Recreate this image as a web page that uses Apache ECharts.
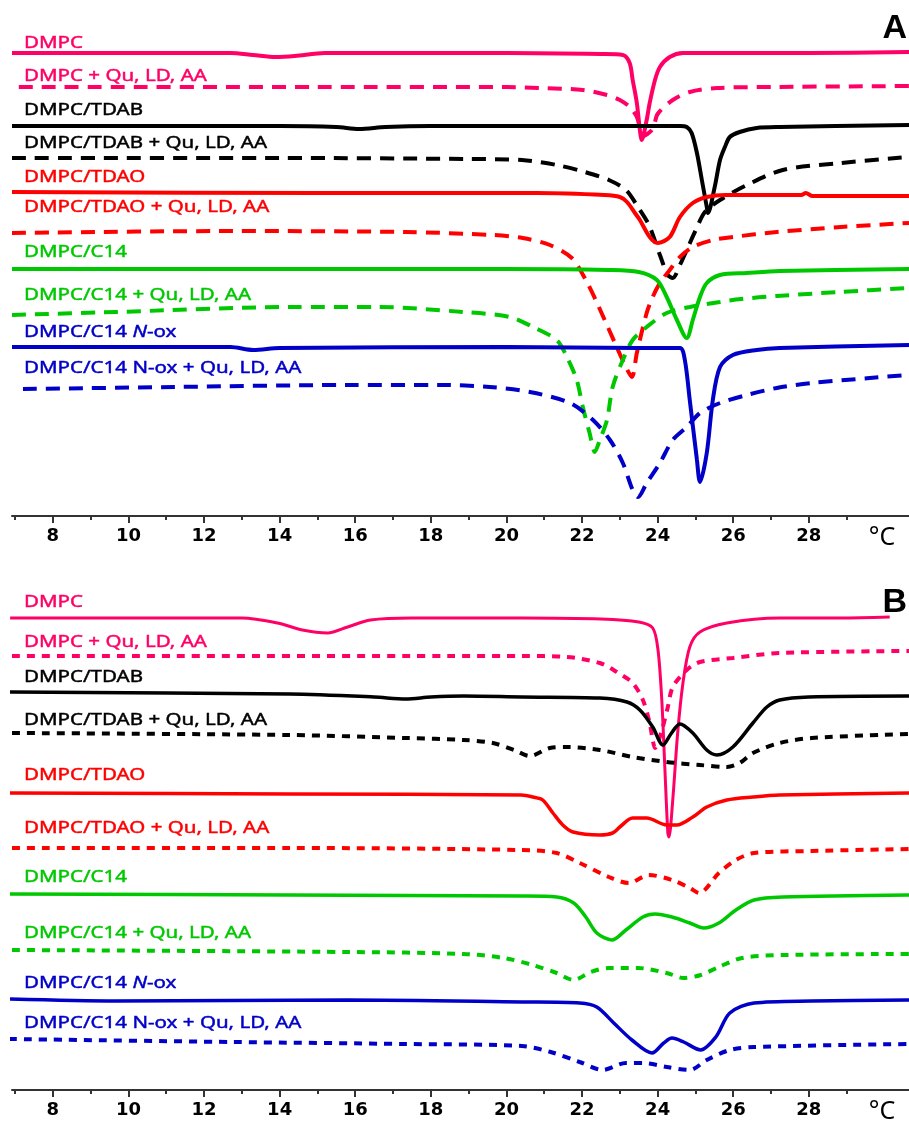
<!DOCTYPE html>
<html><head><meta charset="utf-8">
<script src="https://cdn.jsdelivr.net/npm/echarts@6/dist/echarts.min.js"></script>
<style>html,body{margin:0;padding:0;background:#fff}#c{width:909px;height:1126px}</style>
</head><body><div id="c"></div><script>
// ---------- data ----------
const CATEGORIES = ['DMPC', 'DMPC + Qu, LD, AA', 'DMPC/TDAB', 'DMPC/TDAB + Qu, LD, AA',
  'DMPC/TDAO', 'DMPC/TDAO + Qu, LD, AA', 'DMPC/C14', 'DMPC/C14 + Qu, LD, AA',
  'DMPC/C14 N-ox', 'DMPC/C14 N-ox + Qu, LD, AA'];
const TICKS_MAJOR = [8, 10, 12, 14, 16, 18, 20, 22, 24, 26, 28];
const TICKS_MINOR = [7, 9, 11, 13, 15, 17, 19, 21, 23, 25, 27, 29];
const PANELS = ['A', 'B'];
const UNIT = '°C';

// Panel A (temperature °C, signal in arbitrary offset units)
const A_DMPC = [[6.92,46.3],[12.7,46.3],[13.3,46.1],[13.9,45.9],[14.4,46.0],[15.2,46.3],[20,46.3],[22.5,46.2],[23.08,46.1],[23.26,45.3],[23.34,43.6],[23.45,41.3],[23.53,38.6],[23.58,37.6],[23.71,39.6],[23.79,41.3],[23.93,43.6],[24.06,44.9],[24.32,45.9],[24.67,46.3],[26,46.3],[28,46.3],[30.65,46.4]];
const A_DMPC_Q = [[7.1,42.9],[15,42.9],[20.0,42.9],[20.88,42.8],[22.02,42.6],[22.66,42.1],[23.0,41.6],[23.26,40.9],[23.45,39.9],[23.62,38.0],[23.87,38.7],[24.0,40.2],[24.4,41.6],[24.85,42.4],[25.57,42.8],[27.05,42.9],[30.65,43.0]];
const A_TDAB = [[6.92,39.0],[14,39.0],[15.5,38.9],[16.1,38.7],[16.8,38.9],[18,39.0],[24.0,39.0],[24.6,39.0],[24.77,38.9],[24.9,38.3],[25.04,36.3],[25.17,33.6],[25.3,30.9],[25.33,30.3],[25.51,32.9],[25.65,35.6],[25.78,36.9],[25.91,37.9],[26.17,38.4],[26.62,38.8],[27.23,38.9],[30.65,39.1]];
const A_TDAB_Q = [[6.92,35.8],[14,35.8],[19,35.7],[20.41,35.6],[21.33,35.1],[22.07,34.4],[22.71,33.6],[23.16,32.6],[23.48,30.9],[23.77,29.1],[24.06,26.1],[24.27,24.1],[24.4,23.8],[24.59,25.1],[24.77,26.6],[25.01,28.6],[25.25,30.4],[25.65,31.6],[26.36,33.1],[27.31,34.6],[28.85,35.3],[30.65,35.9]];
const A_TDAO = [[6.92,32.4],[15,32.3],[20.8,32.3],[22.6,32.1],[23.0,31.9],[23.19,31.4],[23.4,30.3],[23.53,29.6],[23.79,27.9],[24.0,27.3],[24.32,27.9],[24.59,29.9],[24.93,31.3],[25.3,31.9],[25.8,32.1],[27.8,32.1],[27.92,32.3],[28.1,32.0],[30.65,32.0]];
const A_TDAO_Q = [[6.92,28.3],[12.74,28.5],[17.34,28.4],[19.64,28.1],[20.43,27.8],[21.15,27.1],[21.73,25.8],[22.1,23.6],[22.36,21.6],[22.6,19.6],[22.87,17.3],[23.16,14.9],[23.32,13.9],[23.45,16.3],[23.71,20.3],[23.87,21.9],[24.06,23.3],[24.32,24.6],[24.59,25.9],[24.93,26.9],[25.46,27.6],[25.99,27.9],[27.15,28.4],[28.85,28.9],[30.65,29.3]];
const A_C14 = [[6.92,24.7],[20,24.7],[22.7,24.6],[23.5,24.4],[23.98,23.6],[24.24,21.9],[24.51,19.6],[24.77,17.8],[24.93,19.6],[25.12,21.9],[25.3,23.3],[25.65,24.1],[26.36,24.3],[27.23,24.5],[30.65,24.7]];
const A_C14_Q = [[6.92,20.1],[9.67,20.4],[14.27,20.9],[16.57,20.9],[18.87,20.4],[20.09,19.9],[20.7,18.9],[21.33,17.6],[21.6,15.9],[21.86,13.6],[22.02,10.9],[22.2,8.3],[22.34,6.4],[22.47,7.6],[22.66,9.6],[22.81,12.9],[23.08,15.6],[23.34,17.6],[23.71,18.9],[24.24,20.3],[24.85,20.9],[25.65,21.4],[26.2,21.7],[27.15,22.0],[28.8,22.4],[30.65,22.8]];
const A_NOX = [[6.92,16.9],[12.7,16.9],[13.3,16.6],[14.0,16.8],[20,16.9],[23.5,16.8],[24.59,16.8],[24.72,15.6],[24.85,11.6],[25.04,5.6],[25.12,3.4],[25.3,6.3],[25.46,11.6],[25.65,14.9],[25.99,16.1],[26.62,16.6],[27.23,16.8],[30.65,17.1]];
const A_NOX_Q = [[7.21,12.7],[11.2,12.9],[15.8,13.1],[18.26,13.1],[19.56,12.9],[20.62,12.4],[21.68,11.3],[22.29,9.6],[22.74,7.6],[23.08,5.3],[23.34,2.6],[23.48,1.9],[23.71,3.3],[24.06,5.3],[24.4,7.6],[24.77,8.9],[25.12,10.3],[25.65,11.3],[26.36,12.1],[27.15,12.8],[28.08,13.3],[29.61,13.8],[30.65,14.1]];

// Panel B
const B_DMPC = [[6.87,47.2],[13.0,47.2],[13.95,46.7],[14.6,46.0],[15.27,45.7],[15.8,46.3],[16.4,47.0],[17.5,47.2],[20.4,47.2],[22.5,47.1],[23.5,46.8],[23.87,46.2],[24.01,44.0],[24.11,39.0],[24.19,32.3],[24.27,25.7],[24.3,25.3],[24.4,29.0],[24.53,35.7],[24.67,40.7],[24.85,44.3],[25.12,45.8],[25.83,46.7],[27.23,47.2],[28.85,47.2],[30.14,47.3]];
const B_DMPC_Q = [[6.92,43.4],[20.4,43.4],[21.6,43.3],[22.47,42.7],[22.92,41.8],[23.34,40.7],[23.61,39.0],[23.79,36.7],[23.87,35.0],[23.93,34.2],[24.1,35.8],[24.27,38.3],[24.4,40.3],[24.77,42.0],[25.12,42.8],[25.99,43.2],[27.23,43.7],[30.65,43.9]];
const B_TDAB = [[6.84,39.8],[14.27,39.6],[16.5,39.3],[17.34,39.1],[18.0,39.3],[18.87,39.4],[20.4,39.3],[22.47,39.2],[23.19,38.8],[23.53,38.0],[23.87,36.3],[24.14,34.5],[24.35,35.6],[24.59,36.6],[24.93,35.7],[25.3,34.0],[25.57,33.5],[25.99,34.3],[26.52,36.7],[26.89,38.3],[27.23,39.0],[28.0,39.3],[30.65,39.4]];
const B_TDAB_Q = [[6.92,35.7],[14.27,35.5],[17.34,35.2],[18.87,35.0],[19.64,34.7],[20.2,34.0],[20.62,33.4],[21.15,34.2],[21.6,34.3],[22.47,34.0],[23.34,33.3],[24.24,32.8],[25.12,32.5],[25.83,32.3],[26.17,32.7],[26.52,33.7],[27.23,34.7],[28.08,35.2],[30.65,35.6]];
const B_TDAO = [[6.84,29.7],[14.27,29.6],[20.4,29.5],[20.7,29.3],[20.96,29.0],[21.23,27.7],[21.49,26.5],[21.76,25.8],[22.47,25.5],[22.81,25.7],[23.0,26.3],[23.34,27.2],[23.71,27.2],[24.24,26.5],[24.51,26.5],[24.93,27.3],[25.3,28.3],[25.83,29.0],[26.52,29.3],[27.23,29.5],[30.65,29.7]];
const B_TDAO_Q = [[6.92,24.2],[14.27,24.2],[20.41,24.0],[21.33,23.7],[21.94,22.7],[22.71,21.3],[23.24,20.7],[23.77,21.5],[24.38,21.0],[24.85,20.2],[25.1,19.7],[25.62,21.7],[26.07,23.0],[26.55,23.7],[28.08,23.9],[30.65,24.1]];
const B_C14 = [[6.84,19.6],[14.27,19.5],[20.41,19.4],[21.33,19.3],[21.78,18.7],[22.1,17.3],[22.39,15.7],[22.79,15.0],[23.16,16.0],[23.61,17.3],[23.93,17.6],[24.38,17.3],[24.85,16.7],[25.22,16.2],[25.62,16.7],[26.07,18.0],[26.55,19.0],[27.31,19.3],[30.65,19.5]];
const B_C14_Q = [[6.92,14.0],[15.8,13.8],[18.87,13.6],[19.93,13.2],[20.7,12.5],[21.33,11.7],[21.78,11.0],[22.23,11.8],[22.71,12.2],[23.48,12.2],[24.24,11.7],[24.69,11.2],[25.14,11.5],[25.62,12.3],[26.23,13.2],[27.31,13.5],[30.65,13.6]];
const B_NOX = [[6.84,9.1],[9.67,8.9],[15.8,9.0],[20.41,8.8],[21.94,8.7],[22.39,8.3],[22.84,6.7],[23.32,5.0],[23.85,3.7],[24.16,4.7],[24.38,5.2],[24.69,4.8],[25.14,4.0],[25.54,5.3],[25.91,7.7],[26.55,8.7],[28.08,8.9],[30.65,9.0]];
const B_NOX_Q = [[6.84,5.1],[12.74,4.8],[17.34,4.6],[20.41,4.4],[21.17,3.8],[21.94,2.8],[22.55,2.0],[23.16,2.7],[23.61,2.7],[24.24,2.3],[24.85,2.0],[25.3,3.0],[25.91,4.0],[26.55,4.3],[30.65,4.6]];

const A_SERIES = [A_DMPC, A_DMPC_Q, A_TDAB, A_TDAB_Q, A_TDAO, A_TDAO_Q, A_C14, A_C14_Q, A_NOX, A_NOX_Q];
const B_SERIES = [B_DMPC, B_DMPC_Q, B_TDAB, B_TDAB_Q, B_TDAO, B_TDAO_Q, B_C14, B_C14_Q, B_NOX, B_NOX_Q];

// ---------- styles / layout ----------
const COLORS = ['#FF0066','#FF0066','#000000','#000000','#FF0000','#FF0000','#00C800','#00C800','#0000C8','#0000C8'];
const DASHED = [false,true,false,true,false,true,false,true,false,true];
const LABEL_Y = [[43,76,110,143,177,207,252,295,332,368],[602,642,677,720,775,828,877,933,983,1023]];
const GRID_TOP = [0, 574];
const GRID_H = 516;
const XMIN = 6.92, XMAX = 30.65;

const chart = echarts.init(document.getElementById('c'), null, {renderer: 'canvas'});

const LABEL_FONT = '"Noto Sans"';
const LABEL_FS = 17;
const ctx = document.createElement('canvas').getContext('2d');
ctx.font = LABEL_FS + 'px ' + LABEL_FONT;
const SX = 243 / ctx.measureText('DMPC/TDAB + Qu, LD, AA').width;

const grids = [], xAxes = [], yAxes = [], series = [], graphics = [];
PANELS.forEach((p, pi) => {
  grids.push({left: 12, right: 0, top: GRID_TOP[pi], height: GRID_H, containLabel: false});
  xAxes.push({
    gridIndex: pi, type: 'value', min: XMIN, max: XMAX, position: 'bottom',
    axisLine: {show: true, lineStyle: {color: '#333', width: 2}},
    axisTick: {show: true, customValues: TICKS_MAJOR, length: 7, lineStyle: {color: '#333', width: 2}},
    axisLabel: {show: true, customValues: TICKS_MAJOR, formatter: v => String(v), color: '#000',
      fontFamily: 'DejaVu Sans', fontWeight: 'bold', fontSize: 18, margin: 11},
    splitLine: {show: false}
  });
  xAxes.push({
    gridIndex: pi, type: 'value', min: XMIN, max: XMAX, position: 'bottom',
    axisLine: {show: false},
    axisTick: {show: true, customValues: TICKS_MINOR, length: 4, lineStyle: {color: '#333', width: 2}},
    axisLabel: {show: false},
    splitLine: {show: false}
  });
  yAxes.push({gridIndex: pi, type: 'value', min: 0, max: 51.6, show: false, splitLine: {show: false}});

  const sets = pi === 0 ? A_SERIES : B_SERIES;
  sets.forEach((d, i) => {
    const solidW = pi === 0 ? 4 : (i === 0 ? 3 : 3.5);
    series.push({
      name: p + ' ' + CATEGORIES[i], type: 'line', xAxisIndex: pi * 2, yAxisIndex: pi,
      data: d, showSymbol: false, symbol: 'none', smooth: 0.3, silent: true, z: 2 + i,
      lineStyle: {color: COLORS[i], width: DASHED[i] ? 4 : solidW,
        type: DASHED[i] ? (pi === 0 ? [14, 9] : [8, 7]) : 'solid', cap: 'butt'}
    });
    const txt = CATEGORIES[i];
    const base = {fontFamily: LABEL_FONT, fontSize: LABEL_FS, fill: COLORS[i], fontStyle: 'normal',
      stroke: COLORS[i], lineWidth: 0.45};
    let style;
    if (txt === 'DMPC/C14 N-ox') {
      style = {text: '{r|DMPC/C14 }{i|N}{r|-ox}', rich: {r: Object.assign({}, base), i: Object.assign({}, base, {fontStyle: 'italic'})}};
    } else {
      style = {text: txt};
    }
    Object.assign(style, {fill: COLORS[i], stroke: COLORS[i], lineWidth: 0.45, font: LABEL_FS + 'px ' + LABEL_FONT,
      align: 'left', verticalAlign: 'middle', textAlign: 'left', textVerticalAlign: 'middle'});
    graphics.push({type: 'text', x: 24, y: LABEL_Y[pi][i], scaleX: SX, silent: true, style});
  });

  graphics.push({type: 'text', x: 907, y: GRID_TOP[pi] + 29, silent: true,
    style: {text: p, fill: '#000', font: 'bold 34px "Liberation Sans"', align: 'right', verticalAlign: 'middle', textAlign: 'right', textVerticalAlign: 'middle'}});
  graphics.push({type: 'text', x: 882, y: GRID_TOP[pi] + GRID_H + 22, silent: true,
    style: {text: UNIT, fill: '#000', font: '25px "Noto Sans"', align: 'center', verticalAlign: 'middle', textAlign: 'center', textVerticalAlign: 'middle'}});
});

chart.setOption({
  animation: false,
  backgroundColor: '#fff',
  grid: grids, xAxis: xAxes, yAxis: yAxes, series: series, graphic: graphics
});
</script></body></html>
